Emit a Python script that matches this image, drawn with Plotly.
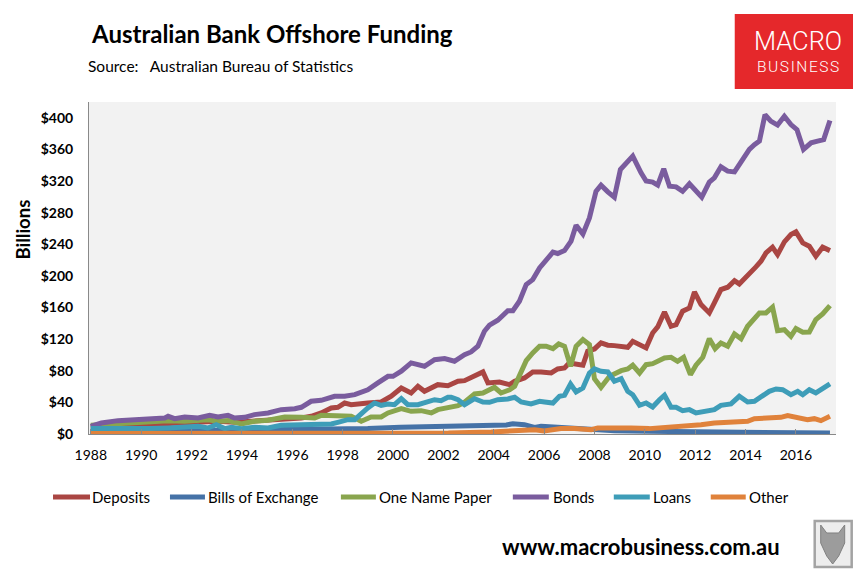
import plotly.graph_objects as go

# ---------------- data ($ billions) ----------------
deposits = [
    (1988.0, 8.4), (1989.75, 11.0), (1991.07, 11.8), (1992.39, 13.9), (1993.05, 16.0),
    (1993.71, 14.8), (1994.37, 16.0), (1995.04, 16.9), (1995.7, 18.1), (1996.36, 20.3),
    (1996.75, 22.4), (1997.15, 26.6), (1997.55, 32.9), (1997.81, 33.8), (1998.08, 39.2),
    (1998.34, 37.1), (1999.0, 39.2), (1999.53, 40.5), (1999.93, 47.7), (2000.33, 58.2),
    (2000.72, 51.9), (2000.99, 60.3), (2001.25, 54.0), (2001.78, 62.4), (2002.18, 61.1),
    (2002.58, 66.7), (2002.84, 67.5), (2003.1, 71.7), (2003.37, 75.0), (2003.57, 78.5),
    (2003.77, 64.6), (2004.03, 65.8), (2004.23, 65.8), (2004.63, 62.4), (2004.83, 66.7),
    (2005.22, 70.9), (2005.55, 78.5), (2005.88, 78.5), (2006.28, 77.2), (2006.54, 82.3),
    (2006.81, 83.5), (2007.0, 89.9), (2007.27, 88.6), (2007.54, 87.0), (2007.73, 104.7),
    (2008.0, 107.6), (2008.26, 115.2), (2008.53, 112.3), (2008.79, 111.8), (2009.06, 111.0),
    (2009.32, 109.7), (2009.52, 117.3), (2009.79, 113.0), (2010.05, 108.9), (2010.31, 127.8),
    (2010.51, 135.4), (2010.78, 154.4), (2011.04, 136.3), (2011.24, 138.4), (2011.5, 155.3),
    (2011.77, 159.5), (2011.97, 179.7), (2012.23, 163.7), (2012.56, 153.2), (2012.76, 165.8),
    (2013.02, 182.7), (2013.29, 185.7), (2013.56, 194.0), (2013.75, 189.9), (2014.08, 199.6),
    (2014.41, 211.4), (2014.61, 218.6), (2014.81, 229.0), (2015.07, 236.3), (2015.27, 227.0),
    (2015.54, 243.0), (2015.8, 252.3), (2016.0, 255.7), (2016.27, 241.8), (2016.53, 237.6),
    (2016.79, 225.0), (2017.06, 236.3), (2017.35, 232.0),
]

bills_of_exchange = [
    (1988.0, 5.0), (1989.5, 4.5), (1991.0, 4.2), (1993.0, 4.5), (1995.0, 5.5),
    (1997.0, 6.0), (1999.0, 6.8), (2000.3, 8.4), (2002.2, 9.7), (2003.8, 10.5),
    (2004.5, 11.5), (2004.76, 13.0), (2005.22, 11.8), (2005.62, 8.4), (2005.88, 9.7),
    (2006.54, 8.4), (2007.2, 7.0), (2008.0, 5.0), (2008.8, 4.2), (2010.2, 3.4),
    (2011.4, 3.0), (2012.8, 2.5), (2014.1, 2.2), (2015.4, 2.0), (2016.5, 1.5),
    (2017.35, 1.2),
]

one_name_paper = [
    (1988.0, 11.0), (1989.08, 12.7), (1990.4, 15.2), (1991.07, 16.9), (1991.73, 16.0),
    (1992.65, 18.1), (1993.05, 16.0), (1993.45, 16.9), (1993.98, 12.7), (1994.5, 16.0),
    (1995.04, 17.3), (1995.7, 21.5), (1996.36, 21.1), (1996.89, 20.3), (1997.15, 23.6),
    (1997.68, 23.6), (1998.08, 22.4), (1998.34, 22.4), (1998.74, 16.0), (1999.13, 21.5),
    (1999.53, 21.5), (1999.8, 26.6), (2000.33, 32.0), (2000.72, 28.7), (2001.12, 29.5),
    (2001.52, 26.6), (2001.78, 30.8), (2002.18, 32.9), (2002.58, 35.9), (2002.84, 40.1),
    (2003.24, 50.6), (2003.57, 51.9), (2003.83, 57.0), (2004.03, 59.1), (2004.29, 51.9),
    (2004.63, 56.0), (2004.83, 60.3), (2005.02, 74.3), (2005.29, 92.8), (2005.55, 102.5),
    (2005.82, 111.0), (2006.08, 111.0), (2006.35, 108.0), (2006.58, 113.9), (2006.81, 111.0),
    (2007.05, 85.7), (2007.27, 111.0), (2007.54, 119.4), (2007.8, 113.0), (2008.0, 70.0),
    (2008.26, 59.1), (2008.6, 73.0), (2008.86, 77.2), (2009.06, 80.1), (2009.32, 82.3),
    (2009.52, 87.0), (2009.79, 77.2), (2010.05, 87.7), (2010.31, 89.0), (2010.51, 92.0),
    (2010.78, 96.2), (2011.04, 97.0), (2011.3, 92.0), (2011.54, 97.0), (2011.81, 75.0),
    (2012.03, 87.0), (2012.3, 97.0), (2012.56, 120.6), (2012.79, 108.0), (2013.02, 115.2),
    (2013.29, 111.0), (2013.56, 126.6), (2013.82, 120.6), (2014.08, 136.3), (2014.35, 146.8),
    (2014.55, 153.2), (2014.81, 153.2), (2015.07, 160.4), (2015.27, 130.8), (2015.54, 132.0),
    (2015.8, 123.7), (2016.0, 133.3), (2016.27, 128.7), (2016.53, 129.1), (2016.79, 144.7),
    (2017.06, 151.9), (2017.35, 162.4),
]

bonds = [
    (1988.0, 9.7), (1988.42, 13.9), (1989.08, 16.9), (1989.75, 18.1), (1990.4, 19.4),
    (1990.94, 20.3), (1991.07, 22.4), (1991.33, 19.4), (1991.73, 21.5), (1992.26, 20.3),
    (1992.72, 23.6), (1993.05, 21.5), (1993.45, 23.6), (1993.71, 20.3), (1994.11, 21.1),
    (1994.5, 24.5), (1995.04, 26.6), (1995.56, 30.8), (1996.1, 32.0), (1996.36, 33.8),
    (1996.75, 41.4), (1997.15, 42.6), (1997.68, 47.7), (1998.08, 47.7), (1998.48, 49.8),
    (1998.87, 54.0), (1999.0, 56.0), (1999.4, 64.6), (1999.8, 73.0), (2000.0, 73.0),
    (2000.33, 79.4), (2000.72, 89.9), (2000.99, 87.7), (2001.25, 85.7), (2001.65, 94.0),
    (2002.05, 95.4), (2002.44, 92.0), (2002.84, 100.4), (2003.1, 103.8), (2003.37, 111.0),
    (2003.63, 130.0), (2003.83, 137.6), (2004.16, 143.9), (2004.56, 156.0), (2004.76, 156.0),
    (2005.02, 168.0), (2005.29, 189.0), (2005.55, 195.3), (2005.82, 210.0), (2006.08, 219.4),
    (2006.35, 230.0), (2006.54, 228.3), (2006.81, 232.0), (2007.07, 244.0), (2007.27, 264.0),
    (2007.54, 253.0), (2007.8, 273.4), (2008.06, 307.0), (2008.26, 314.8), (2008.53, 306.3),
    (2008.79, 299.6), (2009.03, 334.6), (2009.3, 343.0), (2009.52, 351.5), (2009.85, 330.4),
    (2010.05, 320.0), (2010.31, 318.6), (2010.51, 314.8), (2010.75, 335.4), (2010.98, 313.5),
    (2011.24, 312.7), (2011.5, 307.0), (2011.77, 316.5), (2012.03, 307.0), (2012.26, 299.6),
    (2012.56, 318.6), (2012.76, 324.0), (2013.02, 338.0), (2013.29, 332.5), (2013.56, 331.6),
    (2013.82, 344.3), (2014.15, 360.0), (2014.35, 366.0), (2014.55, 370.5), (2014.77, 404.0),
    (2015.0, 395.8), (2015.27, 390.8), (2015.54, 402.0), (2015.8, 391.5), (2016.04, 385.0),
    (2016.3, 360.0), (2016.6, 368.4), (2016.86, 370.5), (2017.1, 372.5), (2017.35, 396.6),
]

loans = [
    (1988.0, 6.8), (1988.82, 6.8), (1989.75, 5.5), (1990.4, 6.8), (1991.07, 7.6),
    (1991.73, 8.4), (1992.26, 9.7), (1992.65, 7.6), (1992.98, 11.8), (1993.32, 6.8),
    (1993.58, 8.4), (1993.98, 6.8), (1994.5, 8.4), (1995.04, 7.6), (1995.56, 11.0),
    (1996.36, 11.8), (1997.02, 12.7), (1997.55, 12.7), (1997.81, 14.8), (1998.21, 18.1),
    (1998.48, 18.1), (1998.74, 26.6), (1999.0, 32.9), (1999.27, 39.2), (1999.53, 36.3),
    (1999.8, 38.0), (2000.06, 37.1), (2000.33, 44.7), (2000.59, 37.1), (2000.99, 37.1),
    (2001.39, 41.4), (2001.65, 43.4), (2001.91, 42.2), (2002.18, 46.5), (2002.31, 46.5),
    (2002.58, 43.4), (2002.84, 37.1), (2003.24, 44.7), (2003.57, 40.5), (2003.83, 40.1),
    (2004.16, 43.4), (2004.56, 44.3), (2004.83, 46.5), (2005.09, 40.5), (2005.48, 38.0),
    (2005.82, 41.4), (2006.02, 40.5), (2006.35, 39.2), (2006.61, 47.7), (2006.81, 49.0),
    (2007.05, 63.3), (2007.27, 53.2), (2007.54, 58.2), (2007.8, 77.2), (2008.0, 82.3),
    (2008.26, 79.4), (2008.53, 78.5), (2008.79, 66.7), (2009.06, 70.0), (2009.32, 54.0),
    (2009.52, 49.7), (2009.79, 36.3), (2010.05, 39.2), (2010.31, 34.2), (2010.58, 43.4),
    (2010.78, 49.0), (2011.04, 33.8), (2011.24, 33.8), (2011.5, 29.5), (2011.77, 30.8),
    (2012.03, 26.6), (2012.36, 28.7), (2012.76, 30.8), (2013.02, 36.3), (2013.42, 38.0),
    (2013.75, 47.7), (2014.08, 40.5), (2014.35, 41.4), (2014.61, 46.5), (2014.94, 54.0),
    (2015.21, 57.0), (2015.47, 56.0), (2015.8, 49.7), (2016.07, 54.0), (2016.27, 49.7),
    (2016.53, 56.0), (2016.79, 51.9), (2017.06, 58.2), (2017.35, 63.3),
]

other = [
    (1988.0, 0.5), (1995.0, 0.5), (2000.0, 0.8), (2002.2, 1.2), (2003.9, 2.5),
    (2004.83, 4.2), (2005.36, 6.5), (2005.62, 5.5), (2006.0, 3.8), (2006.67, 6.8),
    (2007.2, 6.8), (2007.87, 5.5), (2008.13, 7.6), (2008.8, 6.8), (2009.45, 7.6),
    (2010.18, 6.8), (2010.64, 7.6), (2011.4, 9.7), (2012.23, 11.8), (2012.76, 13.9),
    (2013.42, 15.2), (2014.08, 16.0), (2014.35, 19.4), (2014.87, 20.3), (2015.4, 21.1),
    (2015.67, 23.2), (2016.07, 21.1), (2016.46, 18.1), (2016.73, 19.4), (2016.99, 16.9),
    (2017.35, 22.4),
]

series_names = ["Deposits", "Bills of Exchange", "One Name Paper", "Bonds", "Loans", "Other"]
series_data = [deposits, bills_of_exchange, one_name_paper, bonds, loans, other]
series_colors = ["#AA4643", "#4572A7", "#89A54E", "#7A5C9E", "#3E9DB8", "#E0823B"]

x_tick_years = list(range(1988, 2017, 2))
y_tick_values = list(range(0, 401, 40))

# ---------------- layout geometry (pixels) ----------------
W, H = 861, 572
L, R, T, B = 81, 828.3, 94, 426


def px(x):
    return (x - L) / (R - L)


def py(y):
    return (B - y) / (B - T)


FONT = "Lato"

fig = go.Figure()
for name, pts, color in zip(series_names, series_data, series_colors):
    fig.add_trace(go.Scatter(
        x=[p[0] for p in pts], y=[p[1] for p in pts],
        mode="lines", name=name, showlegend=False,
        line=dict(color=color, width=5),
        hovertemplate="%{x:.2f}: $%{y:.1f}bn<extra>" + name + "</extra>",
    ))

shapes = []
annotations = []

# title & source
annotations.append(dict(text="Australian Bank Offshore Funding", x=px(81), y=py(26),
                        xref="paper", yref="paper", xanchor="left", yanchor="middle",
                        showarrow=False, font=dict(family=FONT, size=24, color="black", weight="bold")))
annotations.append(dict(text="Source:&nbsp;&nbsp;&nbsp;Australian Bureau of Statistics", x=px(78), y=py(58),
                        xref="paper", yref="paper", xanchor="left", yanchor="middle",
                        showarrow=False, font=dict(family=FONT, size=15.5, color="black")))

# y axis title
annotations.append(dict(text="Billions", x=px(14.5), y=py(222), xref="paper", yref="paper",
                        xanchor="center", yanchor="middle", textangle=-90, showarrow=False,
                        font=dict(family=FONT, size=18.5, color="black", weight="bold")))

# MacroBusiness logo
shapes.append(dict(type="rect", xref="paper", yref="paper", x0=px(727), x1=px(852),
                   y0=py(81), y1=py(6), fillcolor="#E5282B", line=dict(width=0), layer="above"))
annotations.append(dict(text="MACRO", x=px(790), y=py(33), xref="paper", yref="paper",
                        xanchor="center", yanchor="middle", showarrow=False,
                        font=dict(family="Roboto", size=25.5, color="white", weight=300)))
annotations.append(dict(text="\u200a".join("BUSINESS"), x=px(790), y=py(58.5), xref="paper", yref="paper",
                        xanchor="center", yanchor="middle", showarrow=False,
                        font=dict(family="Roboto", size=15.5, color="white", weight=300)))

# manual legend
legend_items = [(45, 82, 82), (162, 197, 198), (333, 368, 369), (505, 541, 543), (606, 642, 643), (703, 738, 739)]
LEG_Y = 489
for (x0, x1, xt), name, color in zip(legend_items, series_names, series_colors):
    shapes.append(dict(type="line", xref="paper", yref="paper", x0=px(x0), x1=px(x1),
                       y0=py(LEG_Y), y1=py(LEG_Y), line=dict(color=color, width=5)))
    annotations.append(dict(text=name, x=px(xt), y=py(LEG_Y), xref="paper", yref="paper",
                            xanchor="left", yanchor="middle", showarrow=False,
                            font=dict(family=FONT, size=15, color="black")))

# website
annotations.append(dict(text="www.macrobusiness.com.au", x=px(633), y=py(538), xref="paper", yref="paper",
                        xanchor="center", yanchor="middle", showarrow=False,
                        font=dict(family=FONT, size=22, color="black", weight="bold")))

# wolf badge
shapes.append(dict(type="rect", xref="paper", yref="paper", x0=px(807), x1=px(844),
                   y0=py(559), y1=py(513), fillcolor="#EDEDED", line=dict(color="#A3A3A3", width=2.5)))
head = [(813, 517), (819, 525), (831, 525), (837, 517), (837, 535), (831, 548), (825, 556),
        (819, 548), (813, 535)]
path = "M " + " L ".join(f"{px(a):.5f},{py(b):.5f}" for a, b in head) + " Z"
shapes.append(dict(type="path", xref="paper", yref="paper", path=path,
                   fillcolor="#8F8F8F", line=dict(color="#6E6E6E", width=1), opacity=0.85))

fig.update_layout(
    width=W, height=H, autosize=False,
    margin=dict(l=L, r=W - R, t=T, b=H - B, pad=0),
    paper_bgcolor="white", plot_bgcolor="#F2F2F2",
    shapes=shapes, annotations=annotations, showlegend=False,
    xaxis=dict(range=[1987.93, 2017.59], tickmode="array", tickvals=x_tick_years,
               ticktext=[str(v) for v in x_tick_years], showgrid=False, zeroline=False,
               showline=True, linecolor="#898989", linewidth=1, ticks="inside", ticklen=5,
               tickcolor="#898989", tickfont=dict(family=FONT, size=14, color="black"),
               ticklabelstandoff=8),
    yaxis=dict(range=[0, 420], tickmode="array", tickvals=y_tick_values,
               ticktext=[f"${v}" for v in y_tick_values], showgrid=False, zeroline=False,
               showline=True, linecolor="#898989", linewidth=1, ticks="",
               tickfont=dict(family=FONT, size=14, color="black", weight="bold"),
               ticklabelstandoff=12),
)

fig.write_html("out.html")
